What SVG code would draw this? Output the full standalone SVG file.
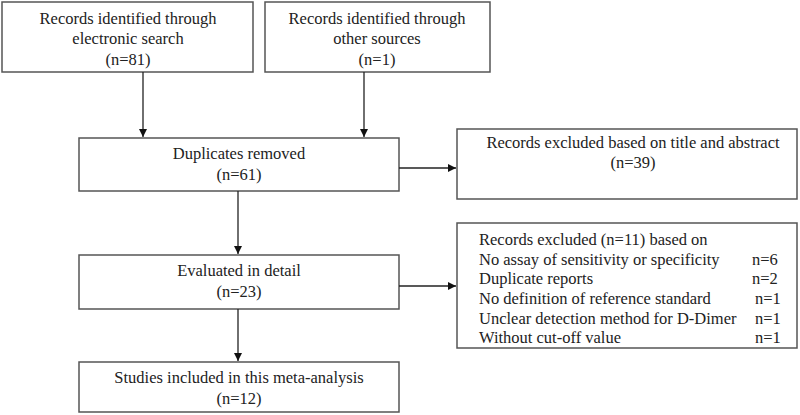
<svg xmlns="http://www.w3.org/2000/svg" width="800" height="415" viewBox="0 0 800 415">
<style>
.box{fill:#fff;stroke:#555;stroke-width:1.5}
text{font-family:"Liberation Serif","Times New Roman",serif;font-size:16.5px;fill:#222}
.c{text-anchor:middle}
.e{stroke:#222;stroke-width:1.3;fill:none;marker-end:url(#ah)}
</style>
<defs>
<marker id="ah" viewBox="0 0 10 10" refX="10" refY="5" markerWidth="8" markerHeight="8" markerUnits="userSpaceOnUse" orient="auto">
<path d="M0,0 L10,5 L0,10 z" fill="#111"/>
</marker>
</defs>
<rect width="800" height="415" fill="#fff"/>
<g id="n1"><rect class="box" x="2" y="2" width="251" height="70"/>
<text class="c" x="128" y="24">Records identified through</text>
<text class="c" x="128" y="44">electronic search</text>
<text class="c" x="128" y="65">(n=81)</text></g>
<g id="n2"><rect class="box" x="265" y="2" width="225" height="70"/>
<text class="c" x="377" y="24">Records identified through</text>
<text class="c" x="377" y="44">other sources</text>
<text class="c" x="377" y="65">(n=1)</text></g>
<g id="n3"><rect class="box" x="79" y="138" width="320" height="53"/>
<text class="c" x="239" y="159">Duplicates removed</text>
<text class="c" x="239" y="180">(n=61)</text></g>
<g id="n4"><rect class="box" x="457" y="129" width="340" height="70"/>
<text class="c" x="633" y="148">Records excluded based on title and abstract</text>
<text class="c" x="633" y="168">(n=39)</text></g>
<g id="n5"><rect class="box" x="79" y="255" width="320" height="54"/>
<text class="c" x="239" y="276">Evaluated in detail</text>
<text class="c" x="239" y="297">(n=23)</text></g>
<g id="n6"><rect class="box" x="457" y="223" width="340" height="125"/>
<text x="479" y="245">Records excluded (n=11) based on</text>
<text x="479" y="265">No assay of sensitivity or specificity</text>
<text x="752" y="265">n=6</text>
<text x="479" y="284">Duplicate reports</text>
<text x="752" y="284">n=2</text>
<text x="479" y="304">No definition of reference standard</text>
<text x="755" y="304">n=1</text>
<text x="479" y="324">Unclear detection method for D-Dimer</text>
<text x="755" y="324">n=1</text>
<text x="479" y="343">Without cut-off value</text>
<text x="755" y="343">n=1</text></g>
<g id="n7"><rect class="box" x="79" y="362" width="320" height="50"/>
<text class="c" x="239" y="383">Studies included in this meta-analysis</text>
<text class="c" x="239" y="404">(n=12)</text></g>
<g id="edges">
<line class="e" x1="143" y1="72" x2="143" y2="137"/>
<line class="e" x1="364" y1="72" x2="364" y2="137"/>
<line class="e" x1="399" y1="168" x2="456" y2="168"/>
<line class="e" x1="238" y1="191" x2="238" y2="254"/>
<line class="e" x1="399" y1="286" x2="456" y2="286"/>
<line class="e" x1="238" y1="309" x2="238" y2="361"/>
</g>
</svg>
